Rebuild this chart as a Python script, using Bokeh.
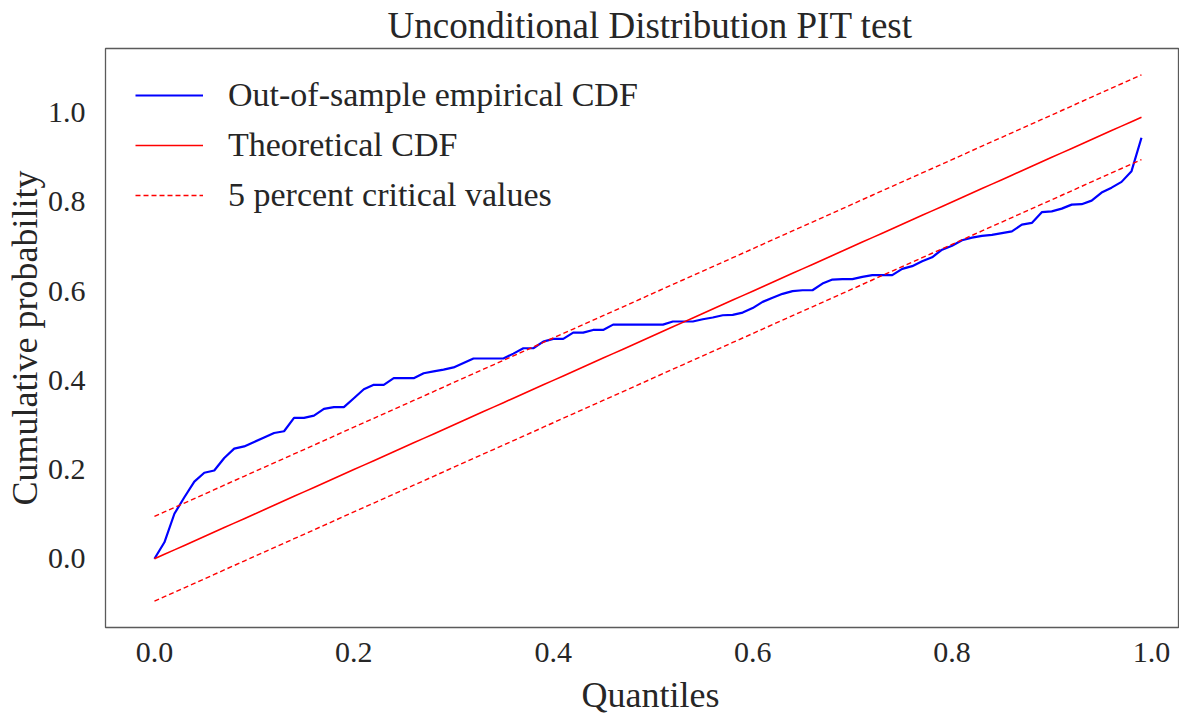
from bokeh.plotting import figure
from bokeh.models import Legend, LegendItem, FixedTicker, Range1d, Div
from bokeh.layouts import column
from bokeh.embed import file_html
from bokeh.resources import INLINE

# ---- data ----
quantiles = [i / 100 for i in range(100)]
empirical_cdf = [
    0.000, 0.037, 0.101, 0.138, 0.173, 0.193, 0.198, 0.226, 0.247, 0.252,
    0.262, 0.272, 0.282, 0.286, 0.316, 0.316, 0.321, 0.336, 0.340, 0.340,
    0.360, 0.380, 0.390, 0.390, 0.405, 0.405, 0.405, 0.416, 0.420, 0.424,
    0.429, 0.439, 0.449, 0.449, 0.449, 0.449, 0.460, 0.472, 0.472, 0.487,
    0.493, 0.493, 0.507, 0.507, 0.513, 0.513, 0.525, 0.525, 0.525, 0.525,
    0.525, 0.525, 0.532, 0.532, 0.532, 0.537, 0.541, 0.546, 0.547, 0.552,
    0.562, 0.576, 0.585, 0.594, 0.600, 0.602, 0.602, 0.617, 0.626, 0.627,
    0.627, 0.632, 0.636, 0.636, 0.636, 0.650, 0.656, 0.667, 0.676, 0.693,
    0.702, 0.714, 0.720, 0.724, 0.726, 0.730, 0.734, 0.749, 0.753, 0.777,
    0.779, 0.785, 0.794, 0.795, 0.803, 0.821, 0.832, 0.845, 0.869, 0.944,
]
theoretical_cdf = list(quantiles)
critical_value = 0.095
upper_crit = [q + critical_value for q in quantiles]
lower_crit = [q - critical_value for q in quantiles]

x_ticks = [0.0, 0.2, 0.4, 0.6, 0.8, 1.0]
y_ticks = [0.0, 0.2, 0.4, 0.6, 0.8, 1.0]

title_text = "Unconditional Distribution PIT test"
x_label = "Quantiles"
y_label = "Cumulative probability"
labels = ["Out-of-sample empirical CDF", "Theoretical CDF", "5 percent critical values"]

FONT = "Liberation Serif"
TXT = "#262626"

W, H = 1179, 675
TOP, BOTTOM, LEFT, RIGHT = 47, 48, 105, 1
frame_h = H - TOP - BOTTOM
frame_w = W - LEFT - RIGHT
PX_PER_UNIT = 997
x_start = -0.0491
x_end = x_start + frame_w / PX_PER_UNIT

p = figure(width=W, height=H, output_backend="svg", toolbar_location=None,
           x_range=Range1d(x_start, x_end), y_range=Range1d(-0.154, 1.144),
           min_border_left=LEFT, min_border_right=RIGHT, min_border_top=TOP,
           min_border_bottom=BOTTOM)

p.title.text = title_text
p.title.align = "left"
p.title.offset = 282
p.title.text_font = FONT
p.title.text_font_size = "37px"
p.title.text_font_style = "normal"
p.title.text_color = TXT
p.title.standoff = 5

p.grid.visible = False
p.background_fill_color = "white"
p.border_fill_color = "white"
p.outline_line_color = "#5a5a5a"
p.outline_line_width = 1.3

for ax in (p.xaxis, p.yaxis):
    ax.axis_line_color = None
    ax.major_tick_line_color = None
    ax.minor_tick_line_color = None
    ax.major_label_text_font = FONT
    ax.major_label_text_font_size = "30px"
    ax.major_label_text_color = TXT
    ax.axis_label_text_font = FONT
    ax.axis_label_text_font_size = "36px"
    ax.axis_label_text_font_style = "normal"
    ax.axis_label_text_color = TXT

p.xaxis.ticker = FixedTicker(ticks=x_ticks)
p.yaxis.ticker = FixedTicker(ticks=y_ticks)
p.xaxis.major_label_overrides = {t: f"{t:.1f}" for t in x_ticks}
p.yaxis.major_label_overrides = {t: f"{t:.1f}" for t in y_ticks}
p.yaxis.axis_label = y_label
p.xaxis.major_label_standoff = 9
p.yaxis.major_label_standoff = 14
p.yaxis.axis_label_standoff = 0

r_emp = p.line(quantiles, empirical_cdf, line_color="#0000ff", line_width=2.2)
r_theo = p.line(quantiles, theoretical_cdf, line_color="#ff0000", line_width=1.6)
r_up = p.line(quantiles, upper_crit, line_color="#ff0000", line_width=1.4, line_dash="5 3")
r_lo = p.line(quantiles, lower_crit, line_color="#ff0000", line_width=1.4, line_dash="5 3")

legend = Legend(items=[
    LegendItem(label=labels[0], renderers=[r_emp]),
    LegendItem(label=labels[1], renderers=[r_theo]),
    LegendItem(label=labels[2], renderers=[r_up]),
], location=(30, frame_h - 23 - 150))
legend.margin = 0
legend.padding = 0
legend.spacing = 0
legend.glyph_width = 68
legend.glyph_height = 50
legend.label_height = 50
legend.label_standoff = 25
legend.label_text_font = FONT
legend.label_text_font_size = "34px"
legend.label_text_color = TXT
legend.border_line_color = None
legend.background_fill_alpha = 0
p.add_layout(legend)

# x-axis title placed directly under the figure, centred on the plot frame
xlabel_div = Div(text=x_label, width=W, height=30, styles={
    "font-family": FONT, "font-size": "36px", "color": TXT,
    "text-align": "center", "line-height": "30px", "white-space": "nowrap",
    "box-sizing": "border-box", "padding-left": f"{LEFT - RIGHT + 8}px",
    "overflow": "visible",
})

layout = column(p, xlabel_div, spacing=0)

open("out.html", "w").write(file_html(layout, INLINE))
